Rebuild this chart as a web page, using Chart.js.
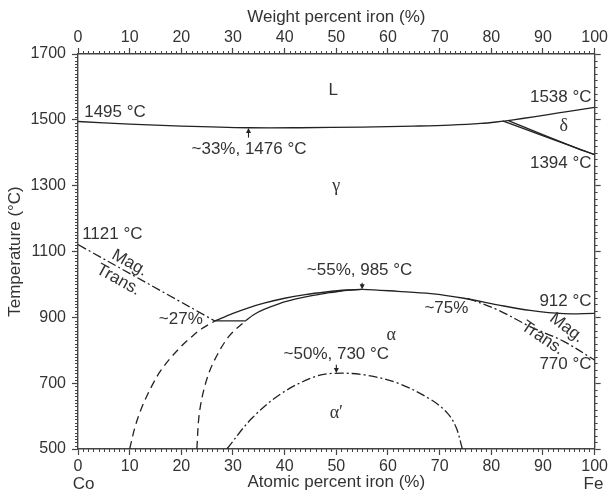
<!DOCTYPE html>
<html>
<head>
<meta charset="utf-8">
<script src="https://cdn.jsdelivr.net/npm/chart.js@4/dist/chart.umd.min.js"></script>
<style>
  html, body { margin: 0; padding: 0; background: #fff; }
  canvas { display: block; }
</style>
</head>
<body>
<canvas id="phaseChart" width="610" height="493"></canvas>
<script>
// Co-Fe phase diagram: atomic percent iron vs temperature (°C)

// L / gamma boundary
const liquidusX = [0, 10, 20, 33, 43, 55, 65, 72, 78, 82.5];
const liquidusT = [1495, 1487, 1481, 1476, 1476, 1478, 1481, 1484, 1489, 1496];

// L / delta boundary up to pure Fe
const deltaLiqX = [82.5, 86, 91, 95, 100];
const deltaLiqT = [1496, 1504, 1516, 1526, 1538];

// delta / gamma two-phase band
const deltaUpperX = [82.2, 100];
const deltaUpperT = [1497, 1394];
const deltaLowerX = [83.4, 96.5, 100];
const deltaLowerT = [1497, 1414, 1394];

// gamma / (alpha + gamma) boundary, through the maximum and on to Fe
const gammaX = [26.5, 30, 33, 36, 40, 44, 48, 52, 55, 61.9, 68.3, 74.7, 81.2, 87.5, 94, 100];
const gammaT = [889, 912, 929, 943, 958, 969, 977, 983, 985, 979, 972, 958, 938, 921, 911, 912];

// (alpha + gamma) / alpha boundary
const alphaX = [32.4, 34, 36, 39, 42, 45, 48, 51, 55];
const alphaT = [889, 908, 924, 942, 955, 965, 973, 980, 985];

// tie line at ~890 °C
const tieX = [26.5, 32.4];
const tieT = [889, 889];

// magnetic transitions
const magCoX = [0, 26.5];
const magCoT = [1121, 889];
const magFeX = [75.4, 81.2, 87.5, 94, 100];
const magFeT = [958, 923, 872, 827, 770];

// low-temperature dashed boundaries
const dashLeftX = [10, 11, 12, 13, 14.5, 16, 18, 20, 22, 24, 26.5];
const dashLeftT = [500, 565, 612, 650, 698, 738, 778, 812, 841, 866, 889];
const dashRightX = [23, 23.5, 24.7, 26.3, 29.2, 32.4];
const dashRightT = [500, 610, 700, 766, 842, 889];

// ordered alpha' dome
const orderX = [28.8, 33.7, 39.5, 45.9, 49.7, 55.5, 61.9, 68.3, 71.5, 73.2, 74.4];
const orderT = [500, 594, 670, 720, 730, 725, 700, 650, 609, 565, 500];

// axis ticks
const compTicks = [0, 10, 20, 30, 40, 50, 60, 70, 80, 90, 100];
const tempTicks = [500, 700, 900, 1100, 1300, 1500, 1700];

const ink = '#222';
const textInk = '#333';
const sans = '"Liberation Sans", Arial, sans-serif';
const serif = '"Liberation Serif", "Times New Roman", serif';

const pts = (xs, ts) => xs.map((x, i) => ({ x: x, y: ts[i] }));

const solid = [];
const dashed = [8, 5];
const dashDot = [9, 3, 2, 3];

function curve(xs, ts, dash) {
  return {
    data: pts(xs, ts),
    showLine: true,
    borderColor: ink,
    borderWidth: 1.3,
    borderDash: dash,
    pointRadius: 0,
    tension: 0.35,
    fill: false
  };
}

// text labels placed in data coordinates
const labels = [
  { text: '1495 °C', x: 1.2, t: 1522, align: 'left' },
  { text: 'L', x: 49.4, t: 1591, align: 'center' },
  { text: '1538 °C', x: 99.4, t: 1567, align: 'right' },
  { text: 'δ', x: 94, t: 1479, align: 'center', serif: true },
  { text: '1394 °C', x: 99.4, t: 1368, align: 'right' },
  { text: '~33%, 1476 °C', x: 33.1, t: 1409, align: 'center' },
  { text: 'γ', x: 50, t: 1297, align: 'center', serif: true },
  { text: '1121 °C', x: 0.8, t: 1151, align: 'left' },
  { text: 'Mag.', x: 10, t: 1065, align: 'center', rot: 29 },
  { text: 'Trans.', x: 7.8, t: 1014, align: 'center', rot: 29 },
  { text: '~55%, 985 °C', x: 54.5, t: 1043, align: 'center' },
  { text: '~75%', x: 71.3, t: 928, align: 'center' },
  { text: '912 °C', x: 99.4, t: 948, align: 'right' },
  { text: 'Mag.', x: 94.6, t: 868, align: 'center', rot: 37 },
  { text: 'Trans.', x: 89.9, t: 837, align: 'center', rot: 34 },
  { text: '770 °C', x: 99.4, t: 756, align: 'right' },
  { text: '~27%', x: 19.9, t: 893, align: 'center' },
  { text: 'α', x: 60.6, t: 847, align: 'center', serif: true },
  { text: '~50%, 730 °C', x: 50, t: 787, align: 'center' },
  { text: 'α′', x: 50, t: 610, align: 'center', serif: true }
];

// small arrows pointing at the extrema
const arrows = [
  { x: 33, from: 1446, to: 1475 },
  { x: 55, from: 1005, to: 985 },
  { x: 50, from: 756, to: 731 }
];

const annotate = {
  id: 'annotate',
  afterDraw(chart) {
    const { ctx, scales: { x, y } } = chart;
    ctx.save();
    ctx.fillStyle = textInk;
    ctx.textBaseline = 'middle';
    labels.forEach(l => {
      ctx.save();
      ctx.translate(x.getPixelForValue(l.x), y.getPixelForValue(l.t));
      if (l.rot) ctx.rotate(l.rot * Math.PI / 180);
      ctx.font = l.serif ? '18px ' + serif : '17px ' + sans;
      ctx.textAlign = l.align;
      ctx.fillText(l.text, 0, 0);
      ctx.restore();
    });

    // arrows
    ctx.strokeStyle = ink;
    ctx.fillStyle = ink;
    ctx.lineWidth = 1.1;
    arrows.forEach(a => {
      const px = x.getPixelForValue(a.x);
      const y0 = y.getPixelForValue(a.from);
      const y1 = y.getPixelForValue(a.to);
      const dir = Math.sign(y1 - y0);
      ctx.beginPath();
      ctx.moveTo(px, y0);
      ctx.lineTo(px, y1 - dir * 3);
      ctx.stroke();
      ctx.beginPath();
      ctx.moveTo(px, y1);
      ctx.lineTo(px - 2.5, y1 - dir * 5);
      ctx.lineTo(px + 2.5, y1 - dir * 5);
      ctx.closePath();
      ctx.fill();
    });

    // element names at both ends of the bottom axis
    ctx.fillStyle = textInk;
    ctx.font = '17px ' + sans;
    const nameY = chart.chartArea.bottom + 35;
    ctx.textAlign = 'left';
    ctx.fillText('Co', x.getPixelForValue(-1), nameY);
    ctx.textAlign = 'right';
    ctx.fillText('Fe', x.getPixelForValue(101.7), nameY);
    ctx.restore();
  }
};

// short minor ticks along all four sides
const minorTicks = {
  id: 'minorTicks',
  afterDraw(chart) {
    const { ctx, chartArea: a, scales: { x, y } } = chart;
    ctx.save();
    ctx.strokeStyle = '#444';
    ctx.lineWidth = 1;
    ctx.beginPath();
    for (let v = 1; v < 100; v++) {
      if (v % 10 === 0) continue;
      const px = Math.round(x.getPixelForValue(v)) + 0.5;
      ctx.moveTo(px, a.bottom); ctx.lineTo(px, a.bottom + 3);
      ctx.moveTo(px, a.top); ctx.lineTo(px, a.top - 3);
    }
    for (let t = 510; t < 1700; t += 10) {
      if (t % 200 === 100) continue;
      const py = Math.round(y.getPixelForValue(t)) + 0.5;
      ctx.moveTo(a.left, py); ctx.lineTo(a.left - 3, py);
      if (t % 20 === 0 && (t - 500) % 200 !== 0) {
        ctx.moveTo(a.right, py); ctx.lineTo(a.right + 3, py);
      }
    }
    ctx.stroke();
    ctx.restore();
  }
};

const tickFont = { family: sans, size: 16 };
const titleFont = { family: sans, size: 17 };
const border = { color: '#444', width: 1.4 };
const majorGrid = { drawOnChartArea: false, tickLength: 6, tickColor: '#444', tickWidth: 1.2 };
const plain = v => String(v);

new Chart(document.getElementById('phaseChart'), {
  type: 'scatter',
  data: {
    datasets: [
      curve(liquidusX, liquidusT, solid),
      curve(deltaLiqX, deltaLiqT, solid),
      curve(deltaUpperX, deltaUpperT, solid),
      curve(deltaLowerX, deltaLowerT, solid),
      curve(gammaX, gammaT, solid),
      curve(alphaX, alphaT, solid),
      curve(tieX, tieT, solid),
      curve(magCoX, magCoT, dashDot),
      curve(magFeX, magFeT, dashDot),
      curve(dashLeftX, dashLeftT, dashed),
      curve(dashRightX, dashRightT, dashed),
      curve(orderX, orderT, dashDot)
    ]
  },
  options: {
    responsive: false,
    animation: false,
    devicePixelRatio: 1,
    layout: { padding: 0 },
    plugins: { legend: { display: false }, tooltip: { enabled: false } },
    scales: {
      x: {
        type: 'linear', position: 'bottom', min: 0, max: 100,
        afterBuildTicks: s => { s.ticks = compTicks.map(v => ({ value: v })); },
        ticks: { color: textInk, font: tickFont, padding: 2, autoSkip: false, maxRotation: 0, callback: plain },
        grid: majorGrid,
        border: border,
        title: { display: true, text: 'Atomic percent iron (%)', color: textInk, font: titleFont, padding: 0 },
        afterFit: s => { s.height = 44; }
      },
      x2: {
        type: 'linear', position: 'top', min: 0, max: 100,
        afterBuildTicks: s => { s.ticks = compTicks.map(v => ({ value: v })); },
        ticks: { color: textInk, font: tickFont, padding: 1, autoSkip: false, maxRotation: 0, callback: plain },
        grid: majorGrid,
        border: border,
        title: { display: true, text: 'Weight percent iron (%)', color: textInk, font: titleFont, padding: { top: 7 } },
        afterFit: s => { s.height = 54; }
      },
      y: {
        type: 'linear', position: 'left', min: 500, max: 1700,
        afterBuildTicks: s => { s.ticks = tempTicks.map(v => ({ value: v })); },
        ticks: { color: textInk, font: tickFont, padding: 6, autoSkip: false, callback: plain },
        grid: majorGrid,
        border: border,
        title: { display: true, text: 'Temperature (°C)', color: textInk, font: titleFont, padding: { top: 5 } },
        afterFit: s => { s.width = 78; }
      },
      y2: {
        type: 'linear', position: 'right', min: 500, max: 1700,
        afterBuildTicks: s => { s.ticks = tempTicks.map(v => ({ value: v })); },
        ticks: { display: false },
        grid: majorGrid,
        border: border,
        afterFit: s => { s.width = 12; }
      }
    }
  },
  plugins: [minorTicks, annotate]
});
</script>
</body>
</html>
